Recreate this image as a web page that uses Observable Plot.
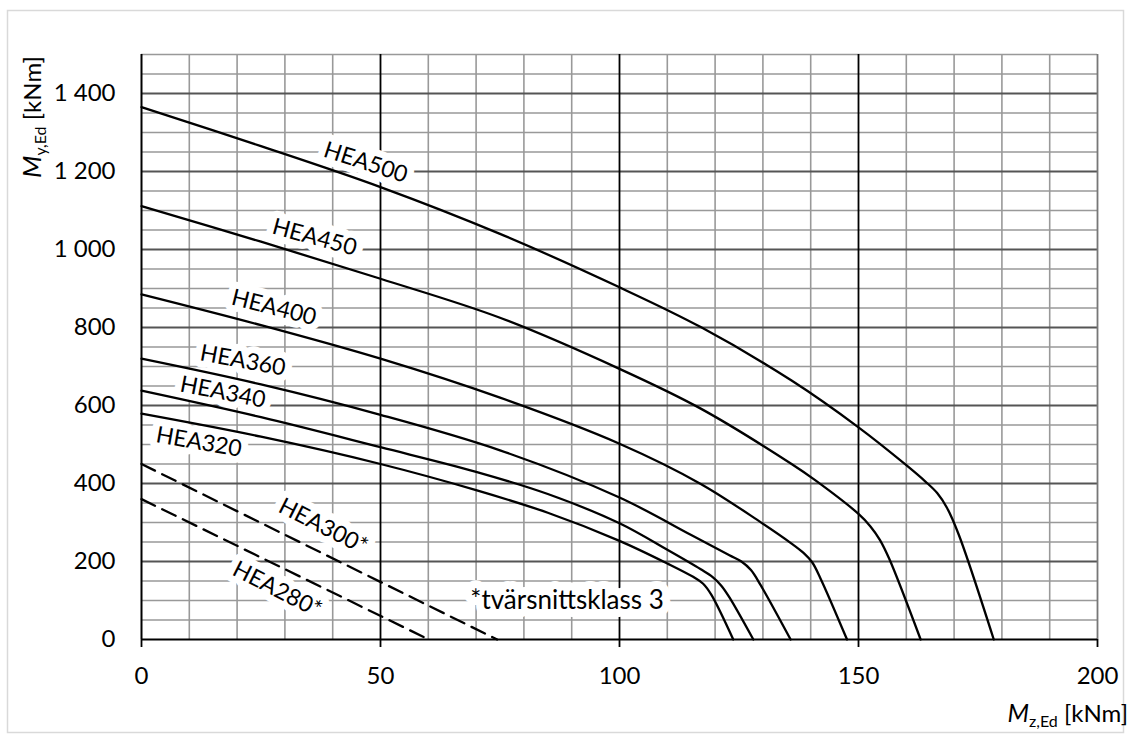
<!DOCTYPE html>
<html><head><meta charset="utf-8">
<script src="https://cdn.jsdelivr.net/npm/d3@7"></script>
<script src="https://cdn.jsdelivr.net/npm/@observablehq/plot@0.6"></script>
<style>body{margin:0;background:#fff}</style>
</head><body><div id="chart"></div>
<script>
// Axis ticks
const xTicks = [0, 50, 100, 150, 200];
const yTicks = [0, 200, 400, 600, 800, 1000, 1200, 1400];
const yTickLabels = ["0", "200", "400", "600", "800", "1 000", "1 200", "1 400"];

// Series (Mz,Ed [kNm], My,Ed [kNm])
const hea500 = [[0,1365],[25,1265],[50,1160],[75,1040],[100,903],[117,801],[136,664],[150,544],[160,447],[164,405],[166.5,375],[168.5,338],[171,268],[178.3,0]];
const hea450 = [[0,1111],[25,1020],[50,925],[75,825],[100,694],[117,592],[136,450],[141,408],[150,322],[152.5,290],[154.5,255],[156.5,205],[163,0]];
const hea400 = [[0,885],[25,806],[50,720],[75,620],[100,502],[117,399],[129.5,301],[136,246],[138.5,222],[140.3,198],[142,158],[147.6,0]];
const hea360 = [[0,720],[25,654],[50,576],[75,485],[100,364],[115,268],[123,216],[125.5,200],[127.5,178],[129.5,140],[135.8,0]];
const hea340 = [[0,638],[25,570],[50,493],[70,430],[85,373],[100,298],[110,230],[117,180],[119.5,160],[121.3,138],[123,108],[128,0]];
const hea320 = [[0,579],[25,520],[50,450],[70,383],[85,325],[100,253],[110,195],[115.5,160],[117.5,143],[119.2,115],[123.8,0]];
const hea300 = [[0,450],[74.4,0]];
const hea280 = [[0,360],[60.1,0]];

const solidSeries = {HEA500: hea500, HEA450: hea450, HEA400: hea400, HEA360: hea360, HEA340: hea340, HEA320: hea320};
const dashedSeries = {HEA300: hea300, HEA280: hea280};

// Curve labels
const labelText = ["HEA500", "HEA450", "HEA400", "HEA360", "HEA340", "HEA320", "HEA300*", "HEA280*"];
const labelX = [46.9, 36.2, 27.7, 21.2, 17, 12, 38, 28.4];
const labelY = [1223, 1031, 851, 715, 634, 506, 290, 128];
const labelAngle = [18, 15, 14, 10.5, 11, 10, 27, 27];
const noteText = "*tvärsnittsklass 3";
const noteX = 68.8, noteY = 100;

const toRows = (obj) => Object.entries(obj).flatMap(([k, pts]) => pts.map(([x, y]) => ({series: k, x, y})));
const solidRows = toRows(solidSeries);
const dashedRows = toRows(dashedSeries);
const labels = labelText.map((t, i) => ({text: t, x: labelX[i], y: labelY[i], a: labelAngle[i]}));

const xMinor = d3.range(10, 200, 10).filter(d => d % 50 !== 0);
const yMinor = d3.range(50, 1501, 50).filter(d => d % 200 !== 0);
const yMajor = yTicks.filter(d => d > 0);
const xMajor = [50, 100, 150];

const chart = Plot.plot({
  width: 1131, height: 740,
  marginLeft: 141, marginRight: 34, marginTop: 54, marginBottom: 101,
  style: {fontFamily: "Lato, 'Open Sans', sans-serif", color: "#000", background: "#fff"},
  x: {domain: [0, 200]},
  y: {domain: [0, 1500]},
  marks: [
    Plot.gridX(xMinor, {stroke: "#999", strokeOpacity: 1, strokeWidth: 1.6}),
    Plot.gridY(yMinor, {stroke: "#999", strokeOpacity: 1, strokeWidth: 1.6}),
    Plot.gridY(yMajor, {stroke: "#555", strokeOpacity: 1, strokeWidth: 2}),
    Plot.gridX([200], {stroke: "#777", strokeOpacity: 1, strokeWidth: 1.8}),
    Plot.gridX(xMajor, {stroke: "#000", strokeOpacity: 1, strokeWidth: 1.8}),
    Plot.text(labels, {x: "x", y: "y", text: "text", rotate: "a", fontSize: 23, fill: "#000", stroke: "white", strokeWidth: 14, strokeLinejoin: "round"}),
    Plot.text([{x: noteX, y: noteY}], {x: "x", y: "y", text: () => noteText, textAnchor: "start", fontSize: 26, fill: "#000", stroke: "white", strokeWidth: 16, strokeLinejoin: "round"}),
    Plot.ruleX([0], {stroke: "#000", strokeWidth: 2}),
    Plot.ruleY([0], {stroke: "#000", strokeWidth: 2}),
    Plot.line(solidRows, {x: "x", y: "y", z: "series", stroke: "#000", strokeWidth: 2.3, curve: "catmull-rom"}),
    Plot.line(dashedRows, {x: "x", y: "y", z: "series", stroke: "#000", strokeWidth: 2.3, strokeDasharray: "15,8"}),
    Plot.axisX({ticks: xTicks, tickSize: 8, tickPadding: 19, fontSize: 24, label: null, stroke: "#000", strokeWidth: 1.8}),
    Plot.axisY({ticks: yTicks, tickSize: 0, tickPadding: 26, fontSize: 24, label: null, tickFormat: d => yTickLabels[yTicks.indexOf(d)]})
  ]
});

document.getElementById("chart").appendChild(chart);
const svg = d3.select(chart);

// outer light border
svg.insert("rect", ":first-child")
  .attr("x", 7.5).attr("y", 10.5).attr("width", 1116).attr("height", 722)
  .attr("fill", "none").attr("stroke", "#d9d9d9").attr("stroke-width", 1.5);

// y-axis title
const yt = svg.append("text")
  .attr("transform", "translate(41,178) rotate(-90)")
  .attr("text-anchor", "start")
  .style("font-family", "Lato, sans-serif").style("font-size", "24px").attr("fill", "#000");
yt.append("tspan").text("M").style("font-style", "italic").style("font-size", "26px");
yt.append("tspan").text("y,Ed").style("font-size", "16px").attr("dy", 5);
yt.append("tspan").text(" [kNm]").attr("dy", -5);

// x-axis title
const xt = svg.append("text")
  .attr("x", 1128).attr("y", 722)
  .attr("text-anchor", "end")
  .style("font-family", "Lato, sans-serif").style("font-size", "24px").attr("fill", "#000");
xt.append("tspan").text("M").style("font-style", "italic").style("font-size", "25px");
xt.append("tspan").text("z,Ed").style("font-size", "16px").attr("dy", 5);
xt.append("tspan").text(" [kNm]").attr("dy", -5);
</script>
</body></html>
